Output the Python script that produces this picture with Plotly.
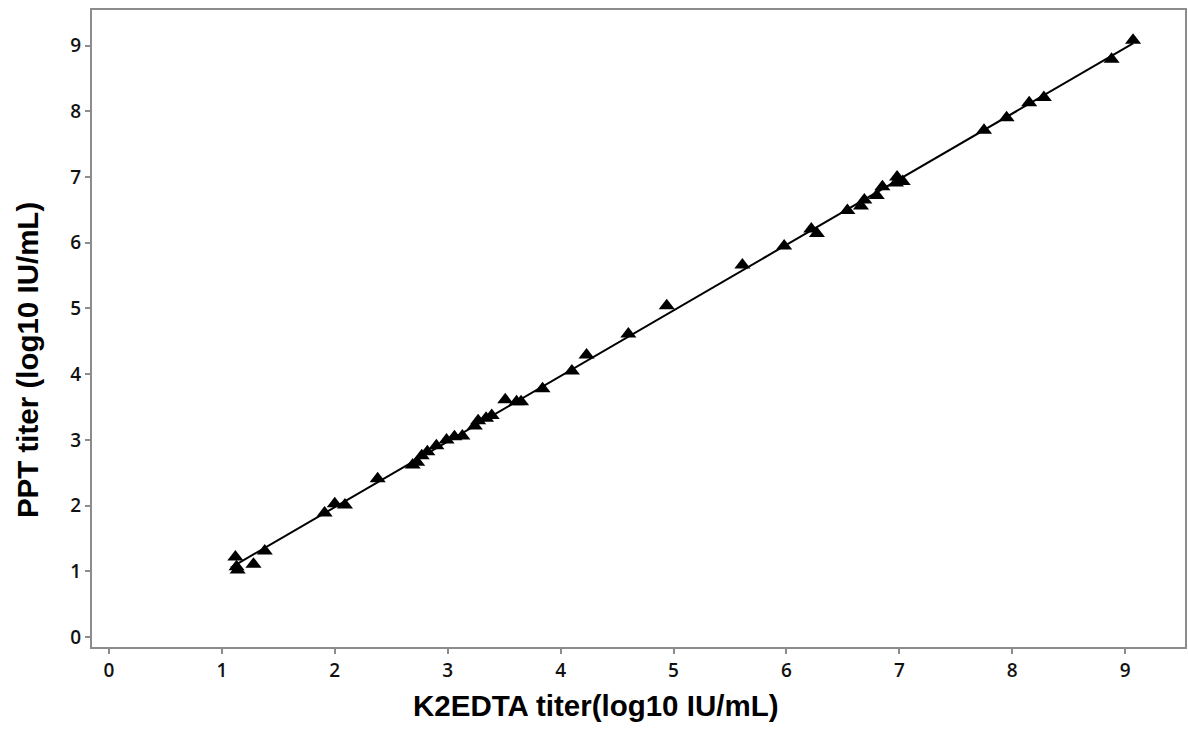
import numpy as np
import plotly.graph_objects as go

k2edta = [1.12, 1.13, 1.14, 1.28, 1.38, 1.91, 2.00, 2.09, 2.38, 2.69, 2.73, 2.77, 2.82, 2.90,
          2.99, 3.06, 3.13, 3.24, 3.27, 3.34, 3.39, 3.51, 3.61, 3.65, 3.84, 4.10, 4.23, 4.60,
          4.94, 5.61, 5.98, 6.22, 6.27, 6.54, 6.66, 6.69, 6.80, 6.85, 6.97, 6.98, 7.03, 7.75,
          7.95, 8.15, 8.28, 8.88, 9.07]
ppt = [1.22, 1.07, 1.02, 1.11, 1.31, 1.89, 2.03, 2.01, 2.41, 2.62, 2.66, 2.76, 2.82, 2.91,
       3.00, 3.05, 3.06, 3.21, 3.29, 3.33, 3.37, 3.61, 3.58, 3.58, 3.78, 4.05, 4.29, 4.61,
       5.04, 5.66, 5.95, 6.21, 6.14, 6.49, 6.56, 6.65, 6.72, 6.85, 6.91, 7.00, 6.93, 7.71,
       7.90, 8.13, 8.21, 8.79, 9.08]
tick_vals = [0, 1, 2, 3, 4, 5, 6, 7, 8, 9]

slope, intercept = np.polyfit(k2edta, ppt, 1)
fit_x = [min(k2edta) - 0.04, max(k2edta)]
fit_y = [intercept + slope * v for v in fit_x]

fig = go.Figure()
fig.add_trace(go.Scatter(x=fit_x, y=fit_y, mode="lines",
                         line=dict(color="black", width=2), showlegend=False))
fig.add_trace(go.Scatter(x=k2edta, y=ppt, mode="markers",
                         marker=dict(symbol="triangle-up", size=14, color="black",
                                     line=dict(width=0)), showlegend=False))

axis_common = dict(showgrid=False, zeroline=False, showline=True, linecolor="#8c8c8c",
                   linewidth=2, mirror=True, ticks="outside", ticklen=5, tickwidth=2,
                   tickcolor="#8c8c8c", tickvals=tick_vals,
                   tickfont=dict(family="Open Sans", size=19, color="#111111", weight=600))

fig.update_xaxes(range=[-0.15, 9.53], **axis_common)
fig.update_yaxes(range=[-0.15, 9.54], **axis_common)

fig.update_layout(
    width=1188, height=732,
    margin=dict(l=92, r=1, t=10, b=85),
    plot_bgcolor="white", paper_bgcolor="white",
    annotations=[
        dict(text="K2EDTA titer(log10 IU/mL)", xref="paper", yref="paper",
             x=(597 - 92) / (1187 - 92), y=(647 - 705) / (647 - 10),
             showarrow=False, xanchor="center", yanchor="middle",
             font=dict(family="Liberation Sans", size=29.5, color="black", weight="bold")),
        dict(text="PPT titer (log10 IU/mL)", xref="paper", yref="paper",
             x=(27 - 92) / (1187 - 92), y=(647 - 360) / (647 - 10),
             textangle=-90, showarrow=False, xanchor="center", yanchor="middle",
             font=dict(family="Liberation Sans", size=29.5, color="black", weight="bold")),
    ],
)

fig.write_html("out.html")
